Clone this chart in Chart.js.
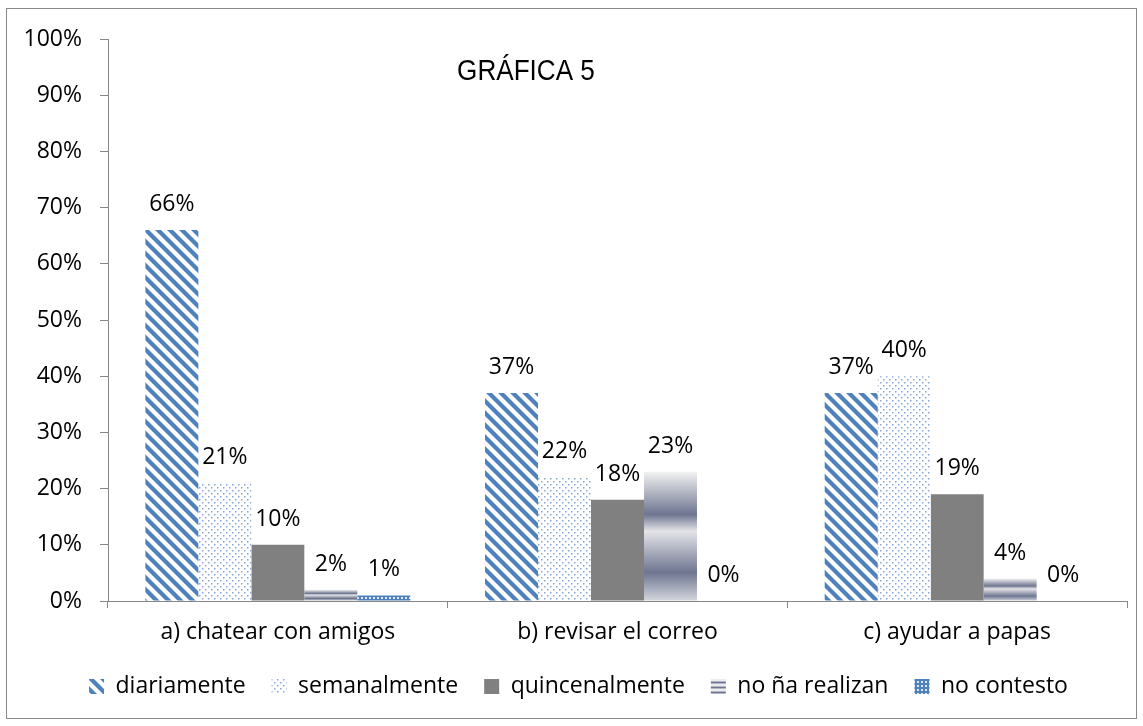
<!DOCTYPE html>
<html lang="es">
<head>
    <meta charset="UTF-8">
    <title>Gráfica 5</title>
    <style>
        html, body { margin: 0; padding: 0; background: #fff; }
        #wrap { width: 1143px; height: 726px; }
    </style>
</head>
<body>
    <div id="wrap">
        <canvas id="bar-chart" width="1143" height="726"></canvas>
    </div>

    <script src="https://cdn.jsdelivr.net/npm/chart.js"></script>
    <script>
        // data
        const categories = ["a) chatear con amigos", "b) revisar el correo", "c) ayudar a papas"];
        const seriesNames = ["diariamente", "semanalmente", "quincenalmente", "no ña realizan", "no contesto"];
        const diariamente = [66, 37, 37];
        const semanalmente = [21, 22, 40];
        const quincenalmente = [10, 18, 19];
        const noRealizan = [2, 23, 4];
        const noContesto = [1, 0, 0];
        const yTicks = [0, 10, 20, 30, 40, 50, 60, 70, 80, 90, 100];

        const FONT = "'Open Sans', 'Noto Sans', sans-serif";
        const SIZE = 23;
        const BLUE = "#4f81bd";

        function tile(w, h, draw) {
            const c = document.createElement("canvas");
            c.width = w; c.height = h;
            const g = c.getContext("2d");
            draw(g, w, h);
            return g.createPattern(c, "repeat");
        }

        // "\" stripes
        const stripes = tile(12, 12, (g, w, h) => {
            g.fillStyle = "#fff";
            g.fillRect(0, 0, w, h);
            g.strokeStyle = BLUE;
            g.lineWidth = 4.2;
            for (const dx of [-12, 0, 12]) {
                g.beginPath();
                g.moveTo(dx - 2, -2);
                g.lineTo(dx + 14, 14);
                g.stroke();
            }
        });

        // small dots
        const dots = tile(6, 6, (g, w, h) => {
            g.fillStyle = "#fff";
            g.fillRect(0, 0, w, h);
            g.fillStyle = "#86a6d4";
            g.fillRect(1, 1, 1.5, 1.5);
            g.fillRect(4, 4, 1.5, 1.5);
        });

        // blue grid with white squares
        const checks = tile(4, 4, (g, w, h) => {
            g.fillStyle = BLUE;
            g.fillRect(0, 0, w, h);
            g.fillStyle = "#dfe8f4";
            g.fillRect(1, 1, 2, 2);
        });

        // horizontal bands for the legend box
        const bandsSmall = tile(4, 5, (g, w, h) => {
            const rows = ["#ececf0", "#b4b8c6", "#6e7590", "#b4b8c6", "#ececf0"];
            rows.forEach((col, i) => { g.fillStyle = col; g.fillRect(0, i, w, 1); });
        });

        function bandsForBar(ctx) {
            const chart = ctx.chart;
            const y = chart.scales.y;
            if (!y || !chart.chartArea) return "#9a9fb0";
            const top = y.getPixelForValue(ctx.raw);
            const bottom = y.getPixelForValue(0);
            if (bottom - top < 1) return "#9a9fb0";
            const gr = chart.ctx.createLinearGradient(0, top, 0, bottom);
            gr.addColorStop(0, "#f2f2f2");
            gr.addColorStop(0.33, "#6e7590");
            gr.addColorStop(0.46, "#e4e4e8");
            gr.addColorStop(0.78, "#6e7590");
            gr.addColorStop(1, "#d5d7de");
            return gr;
        }

        const frame = {
            id: "frame",
            afterLayout(chart) {
                // legend in the picture sits a little right of centre
                if (chart.legend) {
                    chart.legend.left += 15;
                    chart.legend.right += 15;
                }
            },
            beforeDraw(chart) {
                const c = chart.ctx;
                c.save();
                c.fillStyle = "#fff";
                c.fillRect(0, 0, chart.width, chart.height);
                c.strokeStyle = "#898989";
                c.lineWidth = 1;
                c.strokeRect(6.5, 8.5, 1130, 710);
                c.restore();
            },
            afterDraw(chart) {
                // chart title sits inside the plot, narrow face
                const c = chart.ctx;
                c.save();
                c.fillStyle = "#000";
                c.font = "30px 'Liberation Sans', Arial, sans-serif";
                c.textAlign = "center";
                c.textBaseline = "alphabetic";
                c.translate(526, 80);
                c.scale(0.87, 1);
                c.fillText("GRÁFICA 5", 0, 0);
                c.restore();
            }
        };

        const valueLabels = {
            id: "valueLabels",
            afterDatasetsDraw(chart) {
                const c = chart.ctx;
                c.save();
                c.fillStyle = "#000";
                c.font = SIZE + "px " + FONT;
                c.textAlign = "center";
                c.textBaseline = "alphabetic";
                chart.data.datasets.forEach((ds, i) => {
                    chart.getDatasetMeta(i).data.forEach((bar, j) => {
                        c.fillText(ds.data[j] + "%", bar.x, bar.y - 19);
                    });
                });
                c.restore();
            }
        };

        new Chart(document.getElementById("bar-chart"), {
            type: "bar",
            data: {
                labels: categories,
                datasets: [
                    { label: seriesNames[0], data: diariamente, backgroundColor: stripes },
                    { label: seriesNames[1], data: semanalmente, backgroundColor: dots },
                    { label: seriesNames[2], data: quincenalmente, backgroundColor: "#808080" },
                    { label: seriesNames[3], data: noRealizan, backgroundColor: bandsForBar },
                    { label: seriesNames[4], data: noContesto, backgroundColor: checks }
                ]
            },
            options: {
                responsive: false,
                animation: false,
                devicePixelRatio: 1,
                categoryPercentage: 0.78,
                barPercentage: 1,
                layout: { padding: { left: 0, top: 39, right: 16, bottom: 18 } },
                plugins: {
                    legend: {
                        position: "bottom",
                        labels: {
                            boxWidth: 15,
                            boxHeight: 15,
                            padding: 26,
                            color: "#000",
                            font: { family: FONT, size: SIZE },
                            generateLabels(chart) {
                                const items = Chart.defaults.plugins.legend.labels.generateLabels(chart);
                                items[3].fillStyle = bandsSmall;
                                return items;
                            }
                        }
                    },
                    tooltip: { enabled: false }
                },
                scales: {
                    x: {
                        grid: { drawOnChartArea: false, tickLength: 7, color: "#868686" },
                        border: { color: "#868686" },
                        ticks: { color: "#000", padding: 11, font: { family: FONT, size: SIZE } },
                        afterFit(scale) { scale.height = 48; }
                    },
                    y: {
                        min: 0,
                        max: 100,
                        afterBuildTicks(scale) { scale.ticks = yTicks.map(v => ({ value: v })); },
                        grid: { drawOnChartArea: false, tickLength: 8, color: "#868686" },
                        border: { color: "#868686" },
                        ticks: {
                            color: "#000",
                            padding: 18,
                            font: { family: FONT, size: SIZE },
                            callback: v => v + "%"
                        },
                        afterFit(scale) { scale.width = 108; }
                    }
                }
            },
            plugins: [frame, valueLabels]
        });
    </script>
</body>
</html>
